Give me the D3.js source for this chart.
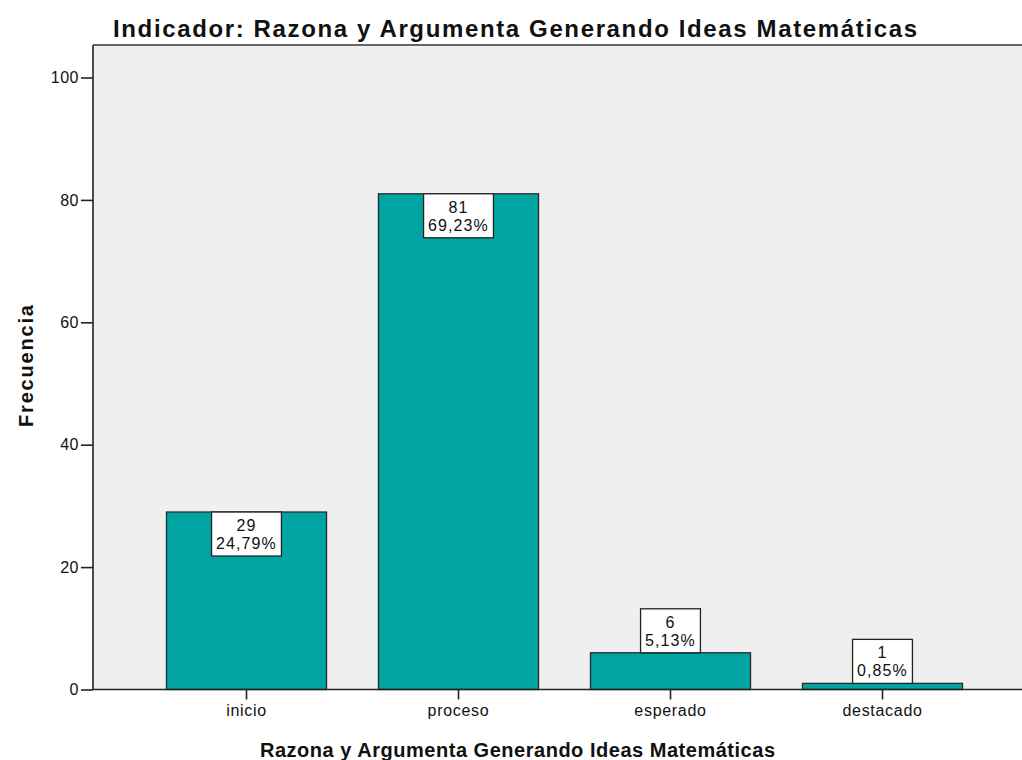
<!DOCTYPE html>
<html>
<head>
<meta charset="utf-8">
<script src="https://cdn.jsdelivr.net/npm/d3@7"></script>
<style>
  body { margin: 0; background: #fff; }
  svg { display: block; font-family: "Liberation Sans", Arial, sans-serif; }
</style>
</head>
<body>
<div class="canvas"></div>
<script>
var width = 1022,
   height = 760;

// data
var categories = ['inicio', 'proceso', 'esperado', 'destacado'];
var counts = [29, 81, 6, 1];
var percents = ['24,79%', '69,23%', '5,13%', '0,85%'];
var yTicks = [0, 20, 40, 60, 80, 100];

var plotLeft = 93,
   plotTop = 45,
   plotBottom = 689.5;

var font = '"Liberation Sans", Arial, sans-serif';

var x = d3.scaleBand()
   .domain(categories)
   .range([140.5, 988.5])
   .paddingInner(0.245)
   .paddingOuter(0.1225);

var y = d3.scaleLinear()
   .domain([0, 100])
   .range([plotBottom, 77.5]);

const svg = d3.select('.canvas')
   .append('svg')
   .attr('width', width)
   .attr('height', height);

// plot background
svg.append('rect')
   .attr('x', plotLeft)
   .attr('y', plotTop)
   .attr('width', width - plotLeft)
   .attr('height', plotBottom - plotTop)
   .attr('fill', '#efefef');

svg.append('line')
   .attr('x1', plotLeft).attr('x2', width)
   .attr('y1', plotTop).attr('y2', plotTop)
   .attr('stroke', '#666')
   .attr('stroke-width', 2);

// bars
svg.append('g')
   .selectAll('rect')
   .data(counts)
   .enter().append('rect')
      .attr('x', (d, i) => x(categories[i]))
      .attr('y', d => y(d))
      .attr('width', x.bandwidth())
      .attr('height', d => y(0) - y(d))
      .attr('fill', '#00a5a3')
      .attr('stroke', '#2a2a2a')
      .attr('stroke-width', 1.3);

// y axis
var yAxis = svg.append('g')
   .attr('transform', 'translate(' + plotLeft + ',0)')
   .call(d3.axisLeft(y).tickValues(yTicks).tickSize(12).tickPadding(2));
yAxis.select('.domain').attr('d', 'M0,' + plotTop + 'V' + plotBottom).attr('stroke', '#222').attr('stroke-width', 1.6);
yAxis.selectAll('.tick line').attr('stroke', '#222').attr('stroke-width', 1.6);
yAxis.selectAll('text')
   .attr('font-size', 16)
   .attr('letter-spacing', 0.5)
   .attr('fill', '#111')
   .attr('font-family', font);

// x axis
var xAxis = svg.append('g')
   .attr('transform', 'translate(0,' + plotBottom + ')')
   .call(d3.axisBottom(x).tickSize(10).tickPadding(5));
xAxis.select('.domain').attr('d', 'M' + plotLeft + ',0H' + width).attr('stroke', '#222').attr('stroke-width', 1.6);
xAxis.selectAll('.tick line').attr('stroke', '#222').attr('stroke-width', 1.6);
xAxis.selectAll('text')
   .attr('font-size', 16)
   .attr('letter-spacing', 0.7)
   .attr('fill', '#111')
   .attr('font-family', font);

// value labels
var boxH = 44;
var labels = svg.append('g')
   .selectAll('g')
   .data(counts)
   .enter().append('g')
      .attr('transform', (d, i) => {
         var cx = x(categories[i]) + x.bandwidth() / 2;
         var top = (y(0) - y(d) > boxH + 4) ? y(d) : y(d) - boxH;
         return 'translate(' + cx + ',' + top + ')';
      });

var boxes = labels.append('rect')
   .attr('fill', '#fff')
   .attr('stroke', '#222')
   .attr('stroke-width', 1.3);

labels.append('text')
   .attr('text-anchor', 'middle')
   .attr('y', 19)
   .attr('font-size', 16)
   .attr('letter-spacing', 1.1)
   .attr('fill', '#111')
   .text(d => d);

labels.append('text')
   .attr('class', 'pct')
   .attr('text-anchor', 'middle')
   .attr('y', 37)
   .attr('font-size', 16)
   .attr('letter-spacing', 1.1)
   .attr('fill', '#111')
   .text((d, i) => percents[i]);

boxes.each(function() {
   var g = d3.select(this.parentNode);
   var w = g.select('.pct').node().getBBox().width + 9;
   d3.select(this)
      .attr('x', -w / 2)
      .attr('y', 0)
      .attr('width', w)
      .attr('height', boxH);
});

// titles
svg.append('text')
   .attr('x', 113)
   .attr('y', 36.5)
   .attr('font-size', 24)
   .attr('font-weight', 'bold')
   .attr('textLength', 804)
   .attr('lengthAdjust', 'spacing')
   .attr('fill', '#111')
   .text('Indicador: Razona y Argumenta Generando Ideas Matemáticas');

svg.append('text')
   .attr('x', 260)
   .attr('y', 756.5)
   .attr('font-size', 20)
   .attr('font-weight', 'bold')
   .attr('textLength', 515)
   .attr('lengthAdjust', 'spacing')
   .attr('fill', '#111')
   .text('Razona y Argumenta Generando Ideas Matemáticas');

svg.append('text')
   .attr('transform', 'translate(33,427) rotate(-90)')
   .attr('font-size', 20)
   .attr('font-weight', 'bold')
   .attr('textLength', 122)
   .attr('lengthAdjust', 'spacing')
   .attr('fill', '#111')
   .text('Frecuencia');
</script>
</body>
</html>
